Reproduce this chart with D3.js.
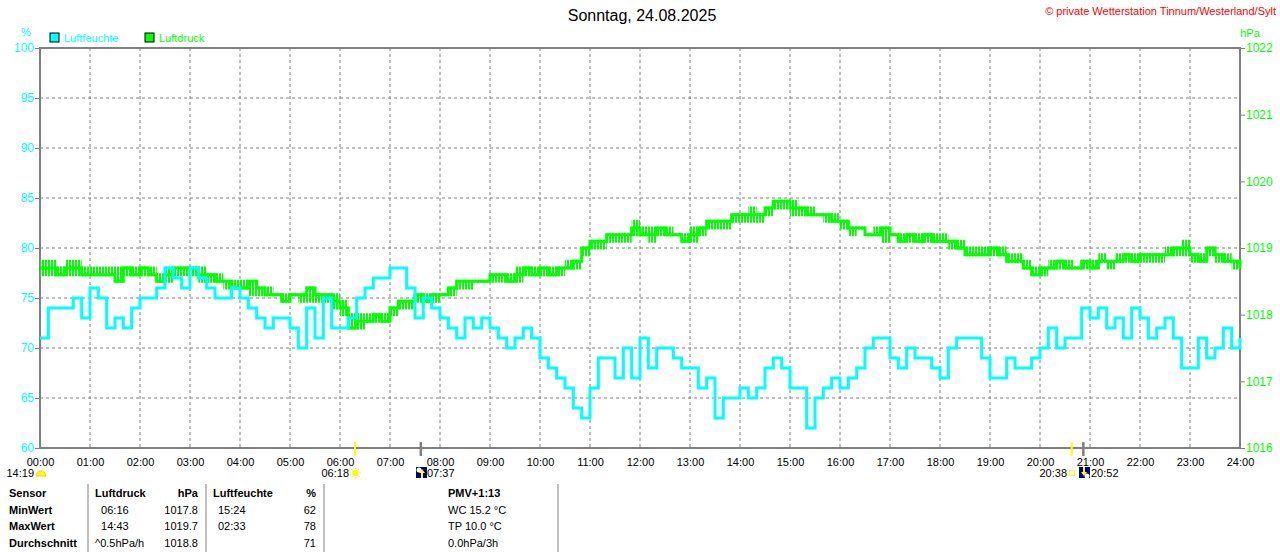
<!DOCTYPE html>
<html>
<head>
<meta charset="utf-8">
<script src="https://cdn.jsdelivr.net/npm/d3@7"></script>
<style>
  body { margin: 0; background: #fff; }
  svg { display: block; font-family: "Liberation Sans", Arial, sans-serif; }
</style>
</head>
<body>
<div id="chart"></div>
<script>
// one value every 10 minutes, 00:00 .. 24:00
const humidity = [
  71, 74, 74, 74, 75, 73, 76, 75, 72, 73, 72, 74,
  75, 75, 76, 78, 77, 76, 78, 77, 76, 75, 75, 76,
  75, 74, 73, 72, 73, 73, 72, 70, 74, 71, 75, 72,
  72, 73, 75, 76, 77, 77, 78, 78, 76, 73, 75, 74,
  73, 72, 71, 73, 72, 73, 72, 71, 70, 71, 72, 71,
  69, 68, 67, 66, 64, 63, 66, 69, 69, 67, 70, 67,
  71, 68, 70, 70, 69, 68, 68, 66, 67, 63, 65, 65,
  66, 65, 66, 68, 69, 68, 66, 66, 62, 65, 66, 67,
  66, 67, 68, 70, 71, 71, 69, 68, 70, 69, 69, 68,
  67, 70, 71, 71, 71, 69, 67, 67, 69, 68, 68, 69,
  70, 72, 70, 71, 71, 74, 73, 74, 72, 73, 71, 74,
  73, 71, 72, 73, 71, 68, 68, 71, 69, 70, 72, 70,
  71
];
const pressure = [
  1018.7, 1018.7, 1018.6, 1018.7, 1018.7, 1018.6, 1018.6, 1018.6, 1018.6, 1018.5, 1018.7, 1018.6,
  1018.7, 1018.6, 1018.5, 1018.6, 1018.7, 1018.7, 1018.7, 1018.6, 1018.6, 1018.5, 1018.5, 1018.4,
  1018.4, 1018.5, 1018.4, 1018.3, 1018.3, 1018.2, 1018.3, 1018.3, 1018.4, 1018.3, 1018.3, 1018.2,
  1018.1, 1017.8, 1017.9, 1017.9, 1018.0, 1017.9, 1018.1, 1018.2, 1018.2, 1018.3, 1018.2, 1018.3,
  1018.3, 1018.4, 1018.5, 1018.5, 1018.5, 1018.5, 1018.6, 1018.6, 1018.5, 1018.6, 1018.7, 1018.6,
  1018.7, 1018.6, 1018.7, 1018.7, 1018.8, 1019.0, 1019.1, 1019.1, 1019.2, 1019.2, 1019.2, 1019.3,
  1019.2, 1019.2, 1019.3, 1019.2, 1019.2, 1019.1, 1019.2, 1019.3, 1019.4, 1019.4, 1019.4, 1019.5,
  1019.5, 1019.5, 1019.5, 1019.6, 1019.7, 1019.7, 1019.6, 1019.6, 1019.5, 1019.5, 1019.5, 1019.4,
  1019.4, 1019.3, 1019.3, 1019.2, 1019.2, 1019.3, 1019.2, 1019.1, 1019.2, 1019.1, 1019.2, 1019.1,
  1019.1, 1019.1, 1019.0, 1018.9, 1018.9, 1018.9, 1019.0, 1018.9, 1018.8, 1018.8, 1018.7, 1018.6,
  1018.7, 1018.7, 1018.8, 1018.7, 1018.7, 1018.8, 1018.7, 1018.8, 1018.8, 1018.8, 1018.9, 1018.8,
  1018.9, 1018.9, 1018.9, 1018.9, 1019.0, 1019.0, 1018.9, 1018.8, 1019.0, 1018.9, 1018.8, 1018.8,
  1018.7
];
// flicker range of the pressure sensor inside each 10-minute slot
const pressureLow = [
  1018.6, 1018.6, 1018.6, 1018.6, 1018.6, 1018.6, 1018.6, 1018.6, 1018.6, 1018.5, 1018.6, 1018.6,
  1018.6, 1018.6, 1018.5, 1018.5, 1018.6, 1018.6, 1018.6, 1018.5, 1018.5, 1018.5, 1018.4, 1018.4,
  1018.4, 1018.3, 1018.3, 1018.3, 1018.3, 1018.2, 1018.3, 1018.2, 1018.2, 1018.2, 1018.2, 1018.1,
  1018.0, 1017.8, 1017.8, 1017.9, 1017.9, 1017.9, 1018.0, 1018.1, 1018.1, 1018.2, 1018.2, 1018.2,
  1018.3, 1018.3, 1018.4, 1018.4, 1018.5, 1018.5, 1018.5, 1018.5, 1018.5, 1018.5, 1018.6, 1018.6,
  1018.6, 1018.6, 1018.6, 1018.7, 1018.7, 1018.9, 1019.0, 1019.0, 1019.1, 1019.1, 1019.1, 1019.2,
  1019.2, 1019.1, 1019.2, 1019.2, 1019.2, 1019.1, 1019.1, 1019.2, 1019.3, 1019.3, 1019.3, 1019.4,
  1019.4, 1019.4, 1019.4, 1019.5, 1019.6, 1019.6, 1019.5, 1019.5, 1019.5, 1019.5, 1019.4, 1019.4,
  1019.3, 1019.2, 1019.3, 1019.2, 1019.2, 1019.1, 1019.2, 1019.1, 1019.1, 1019.1, 1019.1, 1019.1,
  1019.1, 1019.0, 1019.0, 1018.9, 1018.9, 1018.9, 1018.9, 1018.9, 1018.8, 1018.8, 1018.7, 1018.6,
  1018.6, 1018.7, 1018.7, 1018.7, 1018.7, 1018.7, 1018.7, 1018.8, 1018.7, 1018.8, 1018.8, 1018.8,
  1018.8, 1018.8, 1018.8, 1018.9, 1018.9, 1018.9, 1018.8, 1018.8, 1018.9, 1018.8, 1018.8, 1018.7,
  1018.7
];
const pressureHigh = [
  1018.8, 1018.8, 1018.7, 1018.8, 1018.8, 1018.7, 1018.7, 1018.7, 1018.7, 1018.7, 1018.7, 1018.7,
  1018.7, 1018.7, 1018.6, 1018.7, 1018.7, 1018.7, 1018.7, 1018.7, 1018.6, 1018.6, 1018.5, 1018.5,
  1018.5, 1018.5, 1018.4, 1018.4, 1018.3, 1018.3, 1018.3, 1018.3, 1018.4, 1018.3, 1018.3, 1018.3,
  1018.2, 1018.0, 1018.0, 1018.0, 1018.0, 1018.0, 1018.1, 1018.2, 1018.2, 1018.3, 1018.3, 1018.3,
  1018.3, 1018.4, 1018.5, 1018.5, 1018.5, 1018.5, 1018.6, 1018.6, 1018.6, 1018.7, 1018.7, 1018.7,
  1018.7, 1018.7, 1018.7, 1018.8, 1018.8, 1019.0, 1019.1, 1019.1, 1019.2, 1019.2, 1019.2, 1019.4,
  1019.3, 1019.3, 1019.3, 1019.3, 1019.2, 1019.2, 1019.3, 1019.3, 1019.4, 1019.4, 1019.4, 1019.5,
  1019.5, 1019.6, 1019.5, 1019.6, 1019.7, 1019.7, 1019.7, 1019.6, 1019.6, 1019.5, 1019.5, 1019.5,
  1019.4, 1019.3, 1019.3, 1019.2, 1019.3, 1019.3, 1019.2, 1019.2, 1019.2, 1019.2, 1019.2, 1019.2,
  1019.2, 1019.1, 1019.1, 1019.0, 1019.0, 1019.0, 1019.0, 1019.0, 1018.9, 1018.9, 1018.8, 1018.7,
  1018.7, 1018.8, 1018.8, 1018.8, 1018.7, 1018.8, 1018.8, 1018.9, 1018.8, 1018.9, 1018.9, 1018.9,
  1018.9, 1018.9, 1018.9, 1019.0, 1019.0, 1019.1, 1018.9, 1018.9, 1019.0, 1018.9, 1018.9, 1018.8,
  1018.7
];
const stepMinutes = 10;

const hourLabels = ["00:00","01:00","02:00","03:00","04:00","05:00","06:00","07:00","08:00",
  "09:00","10:00","11:00","12:00","13:00","14:00","15:00","16:00","17:00","18:00","19:00",
  "20:00","21:00","22:00","23:00","24:00"];
const humidityTicks = [60, 65, 70, 75, 80, 85, 90, 95, 100];
const pressureTicks = [1016, 1017, 1018, 1019, 1020, 1021, 1022];

// sun / moon events below the axis (minutes of day)
const sunMarks = [378, 1238];      // 06:18 sunrise, 20:38 sunset
const moonMarks = [457, 1252];     // 07:37, 20:52

// summary table
const tableHeader = ["Sensor", "Luftdruck", "hPa", "Luftfeuchte", "%", "PMV+1:13"];
const tableRowNames = ["MinWert", "MaxWert", "Durchschnitt"];
const pressureTimes = ["  06:16", "  14:43", "^0.5hPa/h"];
const pressureValues = ["1017.8", "1019.7", "1018.8"];
const humidityTimes = ["15:24", "02:33", ""];
const humidityValues = ["62", "78", "71"];
const extraInfo = ["WC 15.2 °C", "TP 10.0 °C", "0.0hPa/3h"];

const width = 1280, height = 552;
const margin = { top: 48, right: 40, bottom: 104, left: 40 };
const gray = "#808080", cyan = "#00ffff", green = "#00ff00";

const svg = d3.select("#chart").append("svg")
  .attr("width", width)
  .attr("height", height);

// thin vertical strokes for the flicker band
const pattern = svg.append("defs").append("pattern")
  .attr("id", "flicker")
  .attr("patternUnits", "userSpaceOnUse")
  .attr("width", 3).attr("height", 10);
pattern.append("rect").attr("width", 2).attr("height", 10).attr("fill", green);

const x = d3.scaleLinear().domain([0, 24 * 60]).range([margin.left, width - margin.right]);
const yH = d3.scaleLinear().domain([60, 100]).range([height - margin.bottom, margin.top]);
const yP = d3.scaleLinear().domain([1016, 1022]).range([height - margin.bottom, margin.top]);
const plotBottom = height - margin.bottom;

// grid
svg.append("g")
  .selectAll("line")
  .data(d3.range(1, 24))
  .enter().append("line")
  .attr("x1", d => x(d * 60)).attr("x2", d => x(d * 60))
  .attr("y1", margin.top).attr("y2", plotBottom)
  .attr("stroke", gray).attr("stroke-dasharray", "3,3");

svg.append("g")
  .selectAll("line")
  .data(humidityTicks.slice(1, -1))
  .enter().append("line")
  .attr("x1", margin.left).attr("x2", width - margin.right)
  .attr("y1", d => yH(d)).attr("y2", d => yH(d))
  .attr("stroke", gray).attr("stroke-dasharray", "3,3");

// axes
const leftAxis = svg.append("g")
  .attr("transform", `translate(${margin.left},0)`)
  .call(d3.axisLeft(yH).tickValues(humidityTicks).tickSize(5).tickPadding(1));
leftAxis.select(".domain").remove();
leftAxis.selectAll("line").attr("stroke", gray);
leftAxis.selectAll("text").attr("fill", cyan).style("font-size", "12px").style("font-family", "inherit");

const rightAxis = svg.append("g")
  .attr("transform", `translate(${width - margin.right},0)`)
  .call(d3.axisRight(yP).tickValues(pressureTicks).tickSize(5).tickPadding(1).tickFormat(d3.format("d")));
rightAxis.select(".domain").remove();
rightAxis.selectAll("line").attr("stroke", gray);
rightAxis.selectAll("text").attr("fill", green).style("font-size", "12px").style("font-family", "inherit");

const bottomAxis = svg.append("g")
  .attr("transform", `translate(0,${plotBottom})`)
  .call(d3.axisBottom(x).tickValues(d3.range(0, 25).map(h => h * 60))
    .tickSize(0).tickPadding(10).tickFormat((d, i) => hourLabels[i]));
bottomAxis.select(".domain").remove();
bottomAxis.selectAll("text").attr("fill", "#000").style("font-size", "11px").style("font-family", "inherit");

// frame
svg.append("rect")
  .attr("x", margin.left).attr("y", margin.top)
  .attr("width", width - margin.left - margin.right)
  .attr("height", plotBottom - margin.top)
  .attr("fill", "none").attr("stroke", gray).attr("stroke-width", 2);

// series
const pressureBand = d3.area()
  .x((d, i) => x(i * stepMinutes))
  .y0((d, i) => yP(pressureLow[i]) + 1.5)
  .y1((d, i) => yP(pressureHigh[i]) - 1.5)
  .curve(d3.curveStepAfter);
const pressureLine = d3.line()
  .x((d, i) => x(i * stepMinutes))
  .y(d => yP(d))
  .curve(d3.curveStepAfter);
const humidityLine = d3.line()
  .x((d, i) => x(i * stepMinutes))
  .y(d => yH(d))
  .curve(d3.curveStepAfter);

svg.append("path")
  .datum(pressure)
  .attr("d", pressureBand)
  .attr("fill", "url(#flicker)");

svg.append("path")
  .datum(pressure)
  .attr("d", pressureLine)
  .attr("fill", "none").attr("stroke", green).attr("stroke-width", 3);

svg.append("path")
  .datum(humidity)
  .attr("d", humidityLine)
  .attr("fill", "none").attr("stroke", cyan).attr("stroke-width", 3);

// unit labels and legend
svg.append("text").attr("x", 26).attr("y", 36).attr("text-anchor", "middle")
  .attr("fill", cyan).style("font-size", "11px").text("%");
svg.append("text").attr("x", 1250).attr("y", 37).attr("text-anchor", "middle")
  .attr("fill", green).style("font-size", "11px").text("hPa");

const legend = svg.append("g").selectAll("g")
  .data([["Luftfeuchte", cyan, 50], ["Luftdruck", green, 145]])
  .enter().append("g")
  .attr("transform", d => `translate(${d[2]},33)`);
legend.append("rect").attr("width", 9).attr("height", 9)
  .attr("fill", d => d[1]).attr("stroke", "#000").attr("stroke-width", 1);
legend.append("text").attr("x", 14).attr("y", 9)
  .attr("fill", d => d[1]).style("font-size", "11px").text(d => d[0]);

// title and copyright
svg.append("text").attr("x", 642).attr("y", 21).attr("text-anchor", "middle")
  .style("font-size", "16px").attr("fill", "#000").text("Sonntag, 24.08.2025");
svg.append("text").attr("x", 1276).attr("y", 15).attr("text-anchor", "end")
  .style("font-size", "11px").attr("fill", "#ff0000").text("© private Wetterstation Tinnum/Westerland/Sylt");

// sun / moon markers
svg.append("g").selectAll("line")
  .data(sunMarks)
  .enter().append("line")
  .attr("x1", d => x(d)).attr("x2", d => x(d))
  .attr("y1", plotBottom - 6).attr("y2", plotBottom + 8)
  .attr("stroke", "#ffff00").attr("stroke-width", 2);
svg.append("g").selectAll("line")
  .data(moonMarks)
  .enter().append("line")
  .attr("x1", d => x(d)).attr("x2", d => x(d))
  .attr("y1", plotBottom - 6).attr("y2", plotBottom + 8)
  .attr("stroke", gray).attr("stroke-width", 2.5);

function label(tx, ty, txt, anchor) {
  svg.append("text").attr("x", tx).attr("y", ty).attr("text-anchor", anchor || "start")
    .style("font-size", "11px").attr("fill", "#000").text(txt);
}
// 14:19 moon
label(34, 477, "14:19", "end");
svg.append("path").attr("d", "M36,476 A5,5 0 0 1 46,476 Z")
  .attr("fill", "#ffff00").attr("stroke", "#e6c800").attr("stroke-width", 0.8);
// 06:18 sunrise
label(349, 477, "06:18", "end");
const sun = svg.append("g").attr("transform", "translate(355.5,473)");
sun.append("circle").attr("r", 3.2).attr("fill", "#ffff00");
sun.selectAll("line").data(d3.range(8)).enter().append("line")
  .attr("x1", d => 4 * Math.cos(d * Math.PI / 4)).attr("y1", d => 4 * Math.sin(d * Math.PI / 4))
  .attr("x2", d => 5.5 * Math.cos(d * Math.PI / 4)).attr("y2", d => 5.5 * Math.sin(d * Math.PI / 4))
  .attr("stroke", "#ffff00").attr("stroke-width", 1.2);
// 07:37
const m1 = svg.append("g").attr("transform", "translate(416,467)");
m1.append("rect").attr("width", 11).attr("height", 11).attr("fill", "#000080");
m1.append("circle").attr("cx", 3).attr("cy", 3).attr("r", 2.5).attr("fill", "#ffffff");
m1.append("path").attr("d", "M6,2 L9,6 L7,6 L7,11 L5,11 L5,6 L3,6 Z").attr("fill", "#ffff00");
label(427, 477, "07:37");
// 20:38 sunset
label(1067, 477, "20:38", "end");
svg.append("rect").attr("x", 1069.5).attr("y", 470.5).attr("width", 5).attr("height", 5)
  .attr("fill", "none").attr("stroke", "#ffff00");
// 20:52
const m2 = svg.append("g").attr("transform", "translate(1079,467)");
m2.append("rect").attr("width", 11).attr("height", 11).attr("fill", "#000080");
m2.append("circle").attr("cx", 8).attr("cy", 9).attr("r", 2.5).attr("fill", "#ffffff");
m2.append("path").attr("d", "M5,9 L2,5 L4,5 L4,0 L6,0 L6,5 L8,5 Z").attr("fill", "#ffff00");
label(1091, 477, "20:52");

// table
const tableTop = 484;
svg.append("g").selectAll("line")
  .data([88, 206, 324, 558])
  .enter().append("line")
  .attr("x1", d => d).attr("x2", d => d)
  .attr("y1", tableTop).attr("y2", height)
  .attr("stroke", gray);

const rowY = [497, 514, 530, 547];
const headerCols = [[9, "start"], [95, "start"], [198, "end"], [213, "start"], [316, "end"], [448, "start"]];
svg.append("g").selectAll("text")
  .data(tableHeader)
  .enter().append("text")
  .attr("x", (d, i) => headerCols[i][0]).attr("y", rowY[0])
  .attr("text-anchor", (d, i) => headerCols[i][1])
  .style("font-size", "11px").style("font-weight", "bold").attr("fill", "#000")
  .text(d => d);

tableRowNames.forEach((name, r) => {
  const yy = rowY[r + 1];
  svg.append("text").attr("x", 9).attr("y", yy).style("font-size", "11px").style("font-weight", "bold").text(name);
  svg.append("text").attr("x", 95).attr("y", yy).style("font-size", "11px").style("white-space", "pre")
    .attr("xml:space", "preserve").text(pressureTimes[r]);
  svg.append("text").attr("x", 198).attr("y", yy).attr("text-anchor", "end").style("font-size", "11px").text(pressureValues[r]);
  svg.append("text").attr("x", 218).attr("y", yy).style("font-size", "11px").text(humidityTimes[r]);
  svg.append("text").attr("x", 316).attr("y", yy).attr("text-anchor", "end").style("font-size", "11px").text(humidityValues[r]);
  svg.append("text").attr("x", 448).attr("y", yy).style("font-size", "11px").text(extraInfo[r]);
});
</script>
</body>
</html>
